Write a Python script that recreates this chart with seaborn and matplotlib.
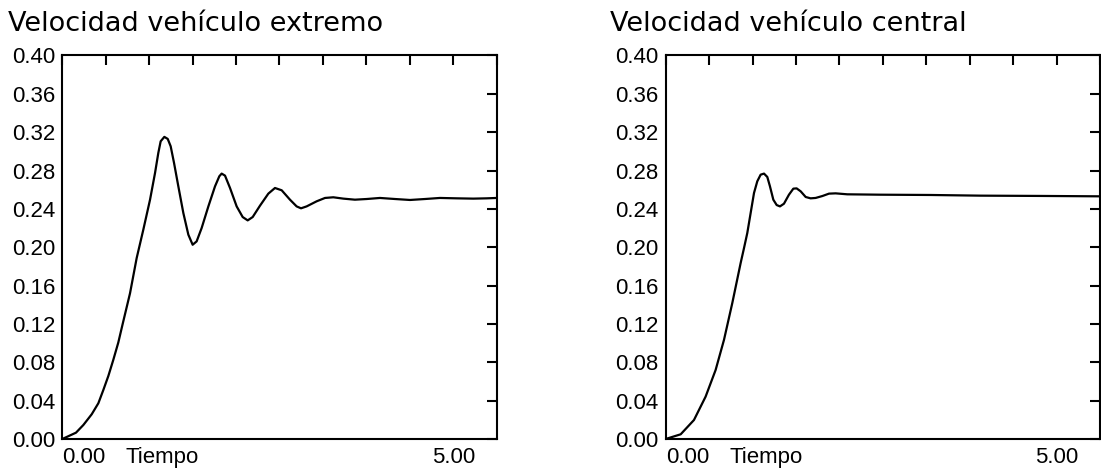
import numpy as np
import pandas as pd
import seaborn as sns
import matplotlib.pyplot as plt

# velocidad vehiculo extremo
t_ext = [0.0, 0.175, 0.269, 0.376, 0.461, 0.525, 0.589, 0.652, 0.716, 0.772, 0.866,
         0.951, 1.036, 1.122, 1.186, 1.228, 1.258, 1.305, 1.348, 1.386, 1.429, 1.484,
         1.548, 1.612, 1.667, 1.718, 1.782, 1.868, 1.953, 2.008, 2.038, 2.081, 2.145,
         2.230, 2.307, 2.371, 2.435, 2.528, 2.635, 2.720, 2.806, 2.912, 2.997, 3.053,
         3.125, 3.253, 3.360, 3.466, 3.594, 3.743, 3.893, 4.063, 4.255, 4.447, 4.639,
         4.830, 5.044, 5.257, 5.427, 5.555]
v_ext = [0.0, 0.0066, 0.0146, 0.0258, 0.0373, 0.0512, 0.0658, 0.0825, 0.1006, 0.120, 0.152,
         0.1887, 0.2183, 0.2496, 0.2775, 0.2984, 0.3105, 0.3151, 0.3130, 0.3053, 0.2879, 0.2635,
         0.2357, 0.2131, 0.2026, 0.2061, 0.2200, 0.2426, 0.2635, 0.2740, 0.2768, 0.2747, 0.2618,
         0.2426, 0.2315, 0.2280, 0.2315, 0.2433, 0.2559, 0.2618, 0.2594, 0.2496, 0.2426, 0.2406,
         0.2426, 0.2479, 0.2514, 0.2521, 0.2507, 0.2496, 0.2503, 0.2514, 0.2503, 0.2493, 0.2503,
         0.2514, 0.2510, 0.2507, 0.2510, 0.2514]

# velocidad vehiculo central
t_cen = [0.0, 0.192, 0.362, 0.511, 0.639, 0.746, 0.852, 0.959, 1.002, 1.044, 1.087,
         1.130, 1.172, 1.215, 1.258, 1.300, 1.334, 1.377, 1.420, 1.462, 1.513, 1.577,
         1.633, 1.675, 1.727, 1.791, 1.854, 1.918, 2.004, 2.089, 2.174, 2.323, 2.750,
         3.389, 4.029, 4.800, 5.555]
v_cen = [0.0, 0.0049, 0.0198, 0.0442, 0.072, 0.1034, 0.1417, 0.1835, 0.1991, 0.2148, 0.2357,
         0.2566, 0.2688, 0.2757, 0.2768, 0.2733, 0.2635, 0.2496, 0.2440, 0.2426, 0.2454, 0.2548,
         0.2611, 0.2614, 0.2583, 0.2524, 0.2510, 0.2514, 0.2534, 0.2559, 0.2562, 0.2552, 0.2548,
         0.2545, 0.2538, 0.2535, 0.2531]

titles = ["Velocidad vehículo extremo", "Velocidad vehículo central"]
y_ticks = np.arange(0, 0.401, 0.04)
x_step = 5 / 9
x_max = 10 * x_step

sns.set_style("white")
plt.rcParams['font.family'] = ['Liberation Sans', 'DejaVu Sans']
plt.rcParams['text.color'] = 'black'

fig = plt.figure(figsize=(11.01, 4.75), dpi=100)
axes = [fig.add_axes([0.0566, 0.0758, 0.3945, 0.8074]),
        fig.add_axes([0.6046, 0.0758, 0.3945, 0.8074])]
data = [(t_ext, v_ext), (t_cen, v_cen)]
title_x = [8 / 1101, 610 / 1101]

for ax, (t, v), title, tx in zip(axes, data, titles, title_x):
    df = pd.DataFrame({"Tiempo": t, "Velocidad": v})
    sns.lineplot(data=df, x="Tiempo", y="Velocidad", ax=ax, color="black",
                 linewidth=1.6, sort=False, estimator=None)

    ax.set_xlim(0, x_max)
    ax.set_ylim(0, 0.4)
    ax.set_yticks(y_ticks)
    ax.set_yticklabels(["%.2f" % y for y in y_ticks])
    xt = np.arange(11) * x_step
    ax.set_xticks(xt)
    labels = [""] * 11
    labels[0] = "0.00"
    labels[9] = "5.00"
    ax.set_xticklabels(labels)
    ax.get_xticklabels()[0].set_ha("left")

    ax.tick_params(axis="both", direction="in", length=7, width=1.5,
                   top=True, right=True, labelsize=16, colors="black")
    ax.tick_params(axis="x", pad=5.5)
    ax.tick_params(axis="y", pad=5)
    for s in ax.spines.values():
        s.set_linewidth(1.5)
        s.set_color("black")

    ax.set_xlabel("")
    ax.set_ylabel("")
    ax.annotate("Tiempo", xy=(0.1466, 0), xycoords="axes fraction",
                xytext=(0, -5.5), textcoords="offset points",
                ha="left", va="top", fontsize=16, color="black")

    fig.text(tx, 0.935, title, ha="left", va="baseline", fontsize=19.5,
             family="DejaVu Sans", color="black")

fig.savefig("out.png", dpi=100)
